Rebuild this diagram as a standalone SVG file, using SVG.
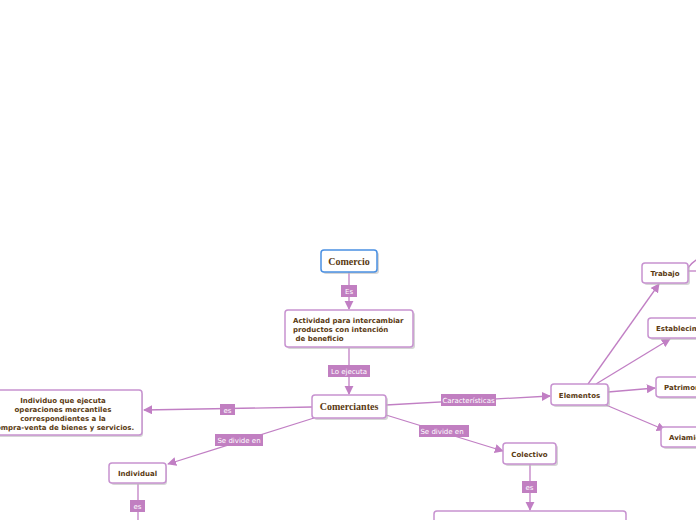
<svg xmlns="http://www.w3.org/2000/svg" width="696" height="520" viewBox="0 0 696 520">
<style>
.box{fill:#fff;stroke:#c792d0;stroke-width:1.5}
.sh{fill:#bbb;opacity:0.6}
.t{font-family:Verdana,"DejaVu Sans",sans-serif;font-size:7px;font-weight:bold;fill:#5a3a12}
.s{font-family:"Liberation Serif","DejaVu Serif",serif;font-size:10px;font-weight:bold;fill:#5a3a12}
.ln{stroke:#c17fc4;stroke-width:1.3;fill:none}
.lb{fill:#c17fc1}
.lt{font-family:Verdana,"DejaVu Sans",sans-serif;font-size:7px;fill:#fff}
</style>
<defs>
<marker id="a" viewBox="0 0 10 10" refX="9" refY="5" markerWidth="7" markerHeight="7" orient="auto"><path d="M0,0L10,5L0,10z" fill="#c17fc4"/></marker>
</defs>
<rect width="696" height="520" fill="#fff"/>
<g id="connectors">
<line class="ln" x1="349" y1="272" x2="349" y2="309" marker-end="url(#a)"/>
<line class="ln" x1="349" y1="348" x2="349" y2="394" marker-end="url(#a)"/>
<line class="ln" x1="312" y1="407" x2="144" y2="410" marker-end="url(#a)"/>
<line class="ln" x1="314" y1="418" x2="168" y2="464" marker-end="url(#a)"/>
<line class="ln" x1="386" y1="415" x2="503" y2="451" marker-end="url(#a)"/>
<line class="ln" x1="530" y1="464" x2="530" y2="510" marker-end="url(#a)"/>
<line class="ln" x1="138" y1="484" x2="138" y2="520"/>
<line class="ln" x1="386" y1="405" x2="550" y2="396" marker-end="url(#a)"/>
<line class="ln" x1="588" y1="384" x2="659" y2="284" marker-end="url(#a)"/>
<line class="ln" x1="596" y1="384" x2="670" y2="339" marker-end="url(#a)"/>
<line class="ln" x1="608" y1="392" x2="655" y2="388" marker-end="url(#a)"/>
<line class="ln" x1="606" y1="405" x2="665" y2="430" marker-end="url(#a)"/>
<path class="ln" d="M688,268 Q692,262 698,259"/>
<line class="ln" x1="688" y1="271" x2="698" y2="271"/>
<rect class="lb" x="341" y="285" width="16" height="12"/><text class="lt" x="349" y="294" text-anchor="middle">Es</text>
<rect class="lb" x="328" y="365" width="42" height="12"/><text class="lt" x="349" y="374" text-anchor="middle">Lo ejecuta</text>
<rect class="lb" x="220" y="404" width="15" height="11"/><text class="lt" x="227.5" y="412.5" text-anchor="middle">es</text>
<rect class="lb" x="215" y="434" width="48" height="12"/><text class="lt" x="239" y="443" text-anchor="middle">Se divide en</text>
<rect class="lb" x="419" y="425" width="50" height="12"/><text class="lt" x="442" y="434" text-anchor="middle">Se divide en</text>
<rect class="lb" x="441" y="394" width="55" height="12"/><text class="lt" x="468.5" y="403" text-anchor="middle">Características</text>
<rect class="lb" x="522" y="481" width="15" height="12"/><text class="lt" x="529.5" y="490" text-anchor="middle">es</text>
<rect class="lb" x="130" y="500" width="15" height="12"/><text class="lt" x="137.5" y="509" text-anchor="middle">es</text>
</g>
<g id="comercio">
<rect class="sh" x="323" y="252" width="56" height="22" rx="3"/>
<rect x="321" y="250" width="56" height="22" rx="3" fill="#fff" stroke="#4a90e2" stroke-width="1.5"/>
<text class="s" x="349" y="264.5" text-anchor="middle">Comercio</text>
</g>
<g id="actividad">
<rect class="sh" x="287" y="312" width="128" height="37" rx="3"/>
<rect class="box" x="285" y="310" width="128" height="37" rx="3"/>
<text class="t" x="293" y="323">Actividad para intercambiar</text>
<text class="t" x="293" y="332">productos con intención</text>
<text class="t" x="293" y="341" xml:space="preserve"> de beneficio</text>
</g>
<g id="comerciantes">
<rect class="sh" x="314" y="397" width="74" height="23" rx="3"/>
<rect class="box" x="312" y="395" width="74" height="23" rx="3"/>
<text class="s" x="349" y="410" text-anchor="middle">Comerciantes</text>
</g>
<g id="individuo">
<rect class="sh" x="-3" y="392" width="146" height="45" rx="3"/>
<rect class="box" x="-5" y="390" width="147" height="45" rx="3"/>
<text class="t" x="63" y="402.5" text-anchor="middle">Individuo que ejecuta</text>
<text class="t" x="63" y="411.5" text-anchor="middle">operaciones mercantiles</text>
<text class="t" x="63" y="420.5" text-anchor="middle">correspondientes a la</text>
<text class="t" x="63" y="429.5" text-anchor="middle">compra-venta de bienes y servicios.</text>
</g>
<g id="individual">
<rect class="sh" x="111" y="465" width="56" height="20" rx="3"/>
<rect class="box" x="109" y="463" width="57" height="20" rx="3"/>
<text class="t" x="137.5" y="476" text-anchor="middle">Individual</text>
</g>
<g id="colectivo">
<rect class="sh" x="505" y="445" width="53" height="21" rx="3"/>
<rect class="box" x="503" y="443" width="53" height="21" rx="3"/>
<text class="t" x="529.5" y="456.5" text-anchor="middle">Colectivo</text>
</g>
<g id="colectivo-def">
<rect class="box" x="434" y="511" width="192" height="20" rx="3"/>
</g>
<g id="elementos">
<rect class="sh" x="553" y="386" width="57" height="21" rx="3"/>
<rect class="box" x="551" y="384" width="57" height="21" rx="3"/>
<text class="t" x="579.5" y="397.5" text-anchor="middle">Elementos</text>
</g>
<g id="trabajo">
<rect class="sh" x="644" y="265" width="46" height="20" rx="3"/>
<rect class="box" x="642" y="263" width="46" height="20" rx="3"/>
<text class="t" x="665" y="276" text-anchor="middle">Trabajo</text>
</g>
<g id="establecimiento">
<rect class="sh" x="650" y="320" width="60" height="20" rx="3"/>
<rect class="box" x="648" y="318" width="60" height="20" rx="3"/>
<text class="t" x="656" y="331">Establecimiento</text>
</g>
<g id="patrimonio">
<rect class="sh" x="658" y="379" width="50" height="20" rx="3"/>
<rect class="box" x="656" y="377" width="50" height="20" rx="3"/>
<text class="t" x="664" y="390">Patrimonio</text>
</g>
<g id="aviamiento">
<rect class="sh" x="663" y="429" width="50" height="20" rx="3"/>
<rect class="box" x="661" y="427" width="50" height="20" rx="3"/>
<text class="t" x="669" y="440">Aviamiento</text>
</g>
</svg>
